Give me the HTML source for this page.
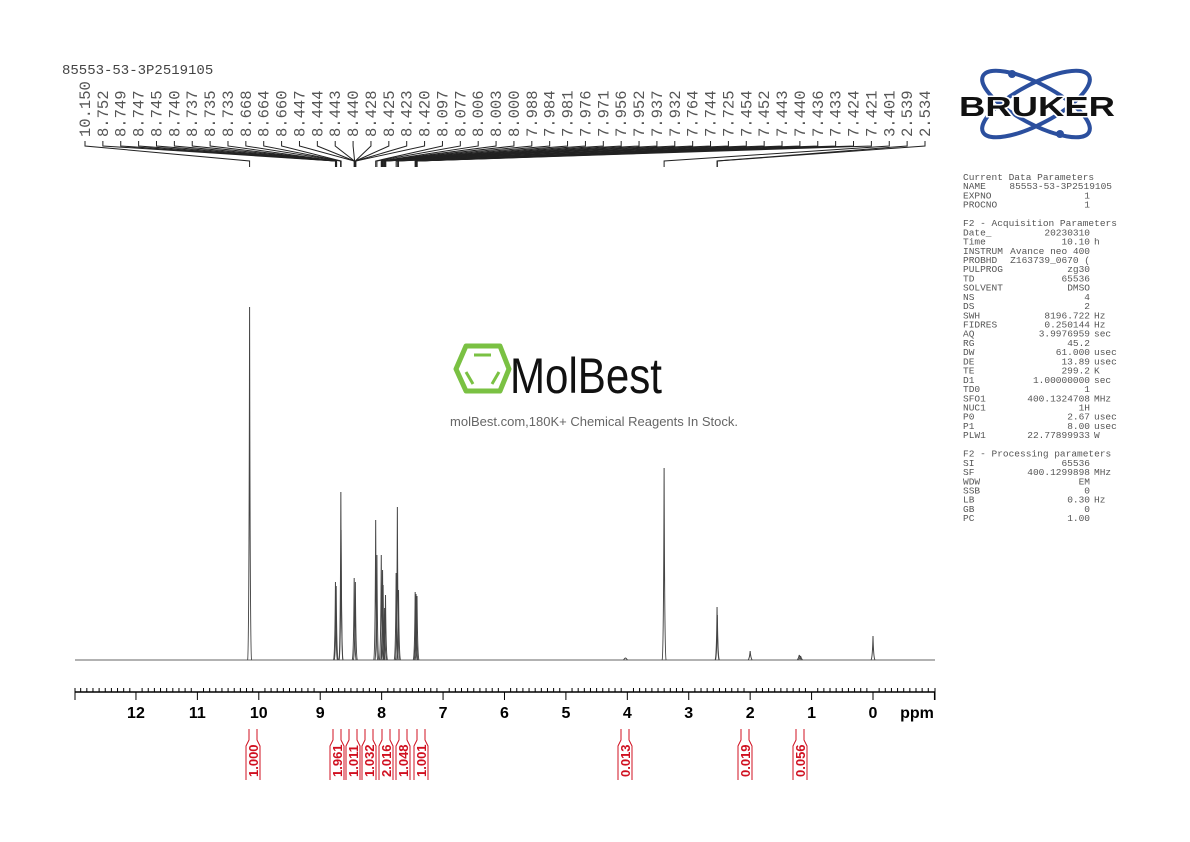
<!DOCTYPE html>
<html><head><meta charset="utf-8"><style>
html,body{margin:0;padding:0;background:#fff;}
svg{display:block;}
</style></head><body>
<svg width="1190" height="842" viewBox="0 0 1190 842" xmlns="http://www.w3.org/2000/svg">
<rect width="1190" height="842" fill="#fff"/>
<text x="62" y="74" font-family="Liberation Mono, monospace" font-size="14" fill="#444">85553-53-3P2519105</text>
<g id="labels" font-family="Liberation Mono, monospace" font-size="15.5" fill="#555"></g>
<g id="leads" stroke="#222" stroke-width="1" fill="none"></g>

<!-- Bruker logo -->
<g>
<ellipse cx="1036" cy="104" rx="60" ry="20" transform="rotate(28 1036 104)" fill="none" stroke="#2b4f9e" stroke-width="4"/>
<ellipse cx="1036" cy="104" rx="60" ry="20" transform="rotate(-28 1036 104)" fill="none" stroke="#2b4f9e" stroke-width="4"/>
<circle cx="1012" cy="74" r="4" fill="#2b4f9e"/>
<circle cx="1060" cy="134" r="4" fill="#2b4f9e"/>
<text x="1037" y="116" text-anchor="middle" font-family="Liberation Sans, sans-serif" font-weight="bold" font-size="28" fill="#111" stroke="#fff" stroke-width="3" paint-order="stroke" textLength="156" lengthAdjust="spacingAndGlyphs">BRUKER</text>
</g>

<!-- params -->
<g id="params" font-family="Liberation Mono, monospace" font-size="9.5" fill="#555"></g>

<!-- watermark -->
<g>
<polygon points="466,346 500,346 509,369 500,391 466,391 456,369" fill="none" stroke="#7ac143" stroke-width="5" stroke-linejoin="round"/>
<line x1="474" y1="355" x2="491" y2="355" stroke="#7ac143" stroke-width="3"/>
<line x1="466" y1="372" x2="473" y2="384" stroke="#7ac143" stroke-width="3"/>
<line x1="499" y1="372" x2="492" y2="384" stroke="#7ac143" stroke-width="3"/>
<text x="510" y="393" font-family="Liberation Sans Narrow, Liberation Sans, sans-serif" font-size="50" fill="#111" textLength="152" lengthAdjust="spacingAndGlyphs">MolBest</text>
<text x="594" y="426" text-anchor="middle" font-family="Liberation Sans, sans-serif" font-size="13" fill="#666">molBest.com,180K+ Chemical Reagents In Stock.</text>
</g>

<!-- spectrum -->
<line x1="75" y1="660" x2="935" y2="660" stroke="#666" stroke-width="1"/>
<g id="peaks" stroke="#444" stroke-width="1" fill="none"></g>

<!-- axis -->
<line x1="75" y1="692" x2="935" y2="692" stroke="#000" stroke-width="1.5"/>
<g id="ticks" stroke="#000" stroke-width="1"></g>
<g font-family="Liberation Sans, sans-serif" font-weight="bold" font-size="16" fill="#000" text-anchor="middle" id="axl"></g>
<text x="917" y="718" text-anchor="middle" font-family="Liberation Sans, sans-serif" font-weight="bold" font-size="16">ppm</text>

<g id="integ" stroke="#d01020" stroke-width="1" fill="none"></g>
<g id="integt" font-family="Liberation Sans, sans-serif" font-weight="bold" font-size="13" fill="#d01020"></g>
</svg>
<script>
const NS="http://www.w3.org/2000/svg";
function el(p,t,a,txt){const e=document.createElementNS(NS,t);for(const k in a)e.setAttribute(k,a[k]);if(txt!==undefined)e.textContent=txt;document.getElementById(p).appendChild(e);return e;}
const X=p=>873-61.42*p;
const labs=["10.150","8.752","8.749","8.747","8.745","8.740","8.737","8.735","8.733","8.668","8.664","8.660","8.447","8.444","8.443","8.440","8.428","8.425","8.423","8.420","8.097","8.077","8.006","8.003","8.000","7.988","7.984","7.981","7.976","7.971","7.956","7.952","7.937","7.932","7.764","7.744","7.725","7.454","7.452","7.443","7.440","7.436","7.433","7.424","7.421","3.401","2.539","2.534"];
const n=labs.length;
labs.forEach((l,i)=>{
 const x=85+i*(925-85)/(n-1);
 el("labels","text",{x:0,y:0,transform:`translate(${x+5},137) rotate(-90)`},l);
 const px=X(parseFloat(l));
 el("leads","path",{d:`M${x},141 V146 L${px},161 V167`});
});
const P=[["Current Data Parameters","",""],["NAME","85553-53-3P2519105",""],["EXPNO","1",""],["PROCNO","1",""],null,
["F2 - Acquisition Parameters","",""],["Date_","20230310",""],["Time","10.10","h"],["INSTRUM","Avance neo 400",""],["PROBHD","Z163739_0670 (",""],["PULPROG","zg30",""],["TD","65536",""],["SOLVENT","DMSO",""],["NS","4",""],["DS","2",""],["SWH","8196.722","Hz"],["FIDRES","0.250144","Hz"],["AQ","3.9976959","sec"],["RG","45.2",""],["DW","61.000","usec"],["DE","13.89","usec"],["TE","299.2","K"],["D1","1.00000000","sec"],["TD0","1",""],["SFO1","400.1324708","MHz"],["NUC1","1H",""],["P0","2.67","usec"],["P1","8.00","usec"],["PLW1","22.77899933","W"],null,
["F2 - Processing parameters","",""],["SI","65536",""],["SF","400.1299898","MHz"],["WDW","EM",""],["SSB","0",""],["LB","0.30","Hz"],["GB","0",""],["PC","1.00",""]];
P.forEach((r,i)=>{if(!r)return;const y=180+i*9.22;
 el("params","text",{x:963,y:y},r[0]);
 if(r[1]){const ex=(r[1].length>14)?1112:1090;el("params","text",{x:ex,y:y,"text-anchor":"end"},r[1]);}
 if(r[2])el("params","text",{x:1094,y:y},r[2]);});
const pk=[[10.15,307],[8.752,582],[8.740,586],[8.664,492],[8.660,530],[8.447,578],[8.428,582],[8.097,520],[8.077,555],[8.006,555],[7.985,570],[7.976,585],[7.952,608],[7.937,595],[7.764,573],[7.744,507],[7.725,590],[7.454,592],[7.44,594],[7.424,596],[3.401,468],[2.539,607],[2.534,615],[2.0,651],[1.2,655],[1.18,656],[4.03,658],[0,636]];
pk.forEach(([p,t])=>{const x=X(p);el("peaks","path",{d:`M${x-2},660 Q${x-0.5},658 ${x},${t} Q${x+0.5},658 ${x+2},660`});});
for(let v=-1;v<=14.2;v+=0.1){const x=X(v);if(x<75||x>935)continue;const major=Math.abs(v-Math.round(v))<0.01;
 el("ticks","line",{x1:x,y1:692,x2:x,y2:major?700:688});}
for(let v=0;v<=12;v++)el("axl","text",{x:X(v),y:718},String(v));
el("ticks","line",{x1:75,y1:688,x2:75,y2:700});el("ticks","line",{x1:935,y1:688,x2:935,y2:700});
const I=[[253,"1.000"],[337,"1.961"],[353,"1.011"],[369,"1.032"],[386,"2.016"],[403,"1.048"],[421,"1.001"],[625,"0.013"],[745,"0.019"],[800,"0.056"]];
I.forEach(([x,t])=>{
 el("integ","path",{d:`M${x-4},729 V740 L${x-7},746 V780 M${x+4},729 V740 L${x+7},746 V780`});
 el("integt","text",{x:0,y:0,transform:`translate(${x+5},777) rotate(-90)`},t);
});
</script>
</body></html>
